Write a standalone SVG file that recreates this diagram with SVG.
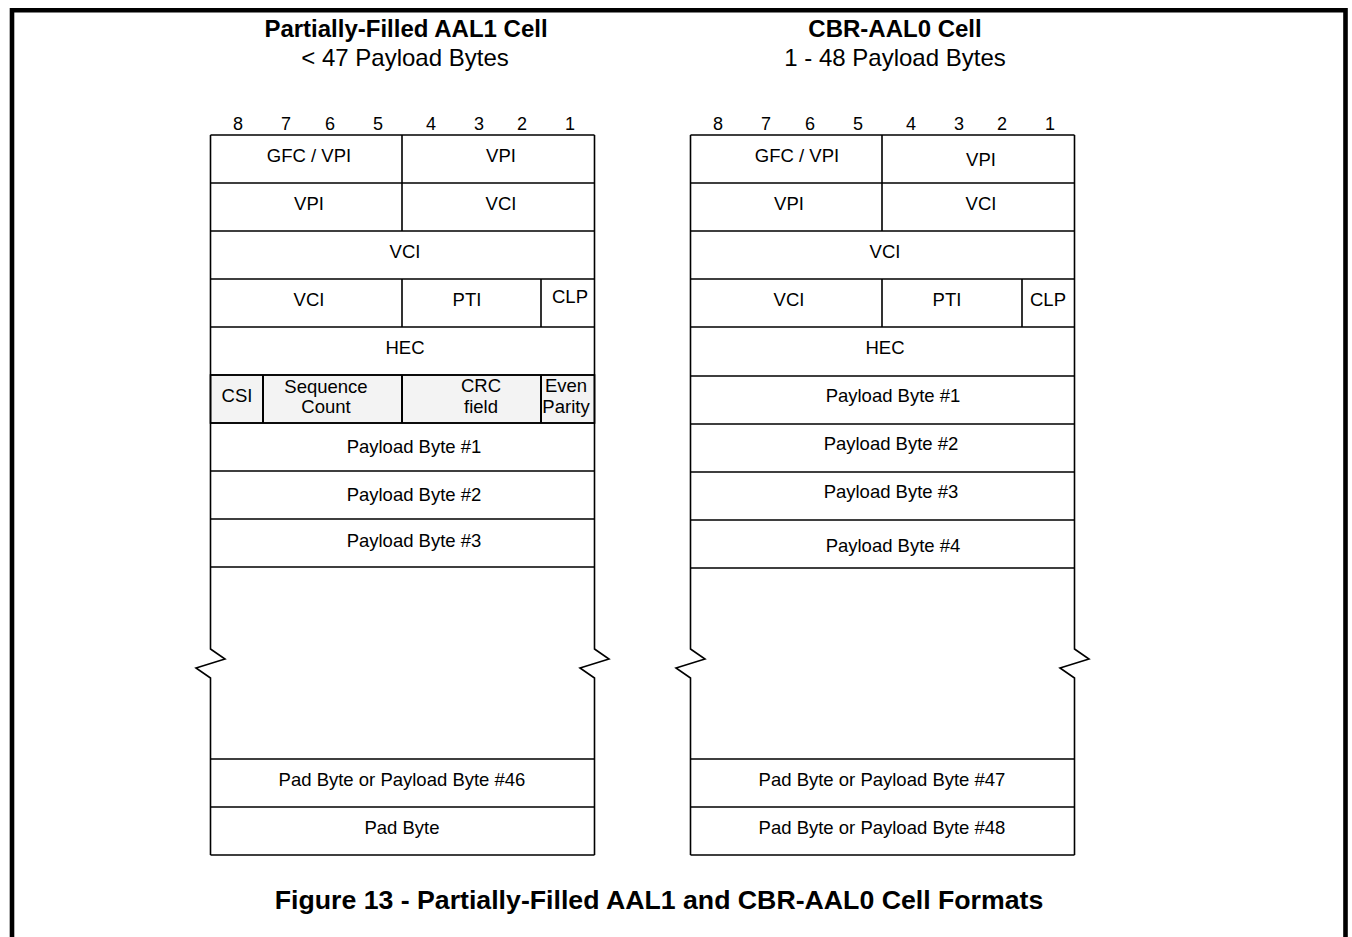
<svg xmlns="http://www.w3.org/2000/svg" width="1352" height="937" viewBox="0 0 1352 937">
<style>
text{font-family:"Liberation Sans",Arial,sans-serif;fill:#000;text-anchor:middle}
.c{font-size:18.5px}
.d{font-size:18px}
.t{font-size:24px;font-weight:bold}
.s{font-size:24px}
.cap{font-size:26.7px;font-weight:bold}
.ln{fill:none;stroke:#000;stroke-width:1.6}
.g{fill:#f3f3f3;stroke:#000;stroke-width:1.6}
.frame{fill:none;stroke:#000;stroke-width:4.6}
</style>
<rect width="1352" height="937" fill="#fff"/>
<path class="frame" d="M12,945 V10.3 H1345.5 V945"/>

<g id="left-titles">
<text class="t" x="406" y="37">Partially-Filled AAL1 Cell</text>
<text class="s" x="405" y="66">&lt; 47 Payload Bytes</text>
</g>
<g id="right-titles">
<text class="t" x="895" y="37">CBR-AAL0 Cell</text>
<text class="s" x="895" y="66">1 - 48 Payload Bytes</text>
</g>

<g id="left-bits">
<text class="d" x="238" y="130">8</text><text class="d" x="286" y="130">7</text><text class="d" x="330" y="130">6</text><text class="d" x="378" y="130">5</text>
<text class="d" x="431" y="130">4</text><text class="d" x="479" y="130">3</text><text class="d" x="522" y="130">2</text><text class="d" x="570" y="130">1</text>
</g>
<g id="right-bits">
<text class="d" x="718" y="130">8</text><text class="d" x="766" y="130">7</text><text class="d" x="810" y="130">6</text><text class="d" x="858" y="130">5</text>
<text class="d" x="911" y="130">4</text><text class="d" x="959" y="130">3</text><text class="d" x="1002" y="130">2</text><text class="d" x="1050" y="130">1</text>
</g>

<g id="left-cell">
<rect class="g" x="210.5" y="375" width="384" height="48"/>
<path class="ln" d="M210.5,135 H594.5 M210.5,183 H594.5 M210.5,231 H594.5 M210.5,279 H594.5 M210.5,327 H594.5 M210.5,375 H594.5 M210.5,423 H594.5 M210.5,471 H594.5 M210.5,519 H594.5 M210.5,567 H594.5 M210.5,759 H594.5 M210.5,807 H594.5 M210.5,855 H594.5"/>
<path class="ln" d="M210.5,135 V649 L225,659 L196,668 L210.5,678 V855 M594.5,135 V649 L609,659 L580,668 L594.5,678 V855"/>
<path class="ln" d="M402,135 V231 M402,279 V327 M541,279 V327"/>
<path class="ln" style="stroke-width:2" d="M263,375 V423 M402,375 V423 M541,375 V423"/>
<text class="c" x="309" y="162">GFC / VPI</text>
<text class="c" x="501" y="162">VPI</text>
<text class="c" x="309" y="210">VPI</text>
<text class="c" x="501" y="210">VCI</text>
<text class="c" x="405" y="258">VCI</text>
<text class="c" x="309" y="306">VCI</text>
<text class="c" x="467" y="306">PTI</text>
<text class="c" x="570" y="303">CLP</text>
<text class="c" x="405" y="354">HEC</text>
<text class="c" x="237" y="402">CSI</text>
<text class="c" x="326" y="393">Sequence</text>
<text class="c" x="326" y="413">Count</text>
<text class="c" x="481" y="392">CRC</text>
<text class="c" x="481" y="413">field</text>
<text class="c" x="566" y="392">Even</text>
<text class="c" x="566" y="413">Parity</text>
<text class="c" x="414" y="453">Payload Byte #1</text>
<text class="c" x="414" y="501">Payload Byte #2</text>
<text class="c" x="414" y="547">Payload Byte #3</text>
<text class="c" x="402" y="786">Pad Byte or Payload Byte #46</text>
<text class="c" x="402" y="834">Pad Byte</text>
</g>

<g id="right-cell">
<path class="ln" d="M690.5,135 H1074.5 M690.5,183 H1074.5 M690.5,231 H1074.5 M690.5,279 H1074.5 M690.5,327 H1074.5 M690.5,376 H1074.5 M690.5,424 H1074.5 M690.5,472 H1074.5 M690.5,520 H1074.5 M690.5,568 H1074.5 M690.5,759 H1074.5 M690.5,807 H1074.5 M690.5,855 H1074.5"/>
<path class="ln" d="M690.5,135 V649 L705,659 L676,668 L690.5,678 V855 M1074.5,135 V649 L1089,659 L1060,668 L1074.5,678 V855"/>
<path class="ln" d="M882,135 V231 M882,279 V327 M1022,279 V327"/>
<text class="c" x="797" y="162">GFC / VPI</text>
<text class="c" x="981" y="166">VPI</text>
<text class="c" x="789" y="210">VPI</text>
<text class="c" x="981" y="210">VCI</text>
<text class="c" x="885" y="258">VCI</text>
<text class="c" x="789" y="306">VCI</text>
<text class="c" x="947" y="306">PTI</text>
<text class="c" x="1048" y="306">CLP</text>
<text class="c" x="885" y="354">HEC</text>
<text class="c" x="893" y="402">Payload Byte #1</text>
<text class="c" x="891" y="450">Payload Byte #2</text>
<text class="c" x="891" y="498">Payload Byte #3</text>
<text class="c" x="893" y="552">Payload Byte #4</text>
<text class="c" x="882" y="786">Pad Byte or Payload Byte #47</text>
<text class="c" x="882" y="834">Pad Byte or Payload Byte #48</text>
</g>

<g id="caption">
<text class="cap" x="659" y="909">Figure 13 - Partially-Filled AAL1 and CBR-AAL0 Cell Formats</text>
</g>
</svg>
